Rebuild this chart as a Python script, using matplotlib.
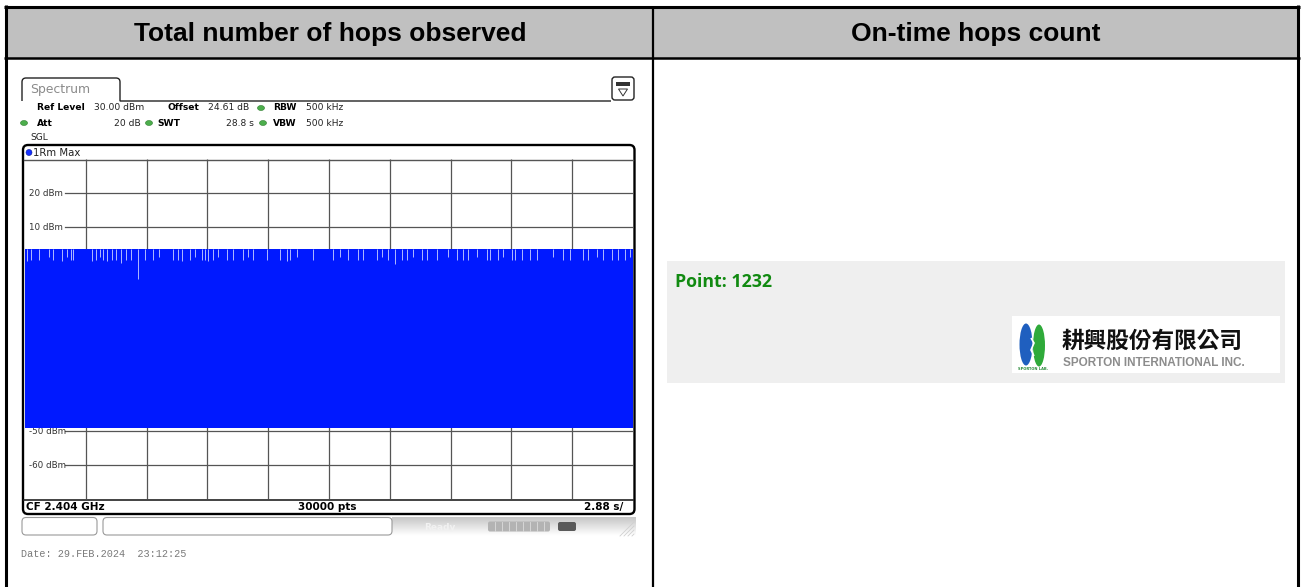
import numpy as np
import matplotlib
matplotlib.use("Agg")
import matplotlib.pyplot as plt
from matplotlib.patches import Rectangle, FancyBboxPatch, Ellipse, Polygon, PathPatch
from matplotlib.path import Path
import matplotlib.transforms as mtransforms

# --- values ---
headers = ["Total number of hops observed", "On-time hops count"]
ref_level = 30.0        # dBm, top grid line
level_span = 100.0      # dB over 10 divisions
sweep_time = 28.8       # s (2.88 s/div)
n_div = 10
level_grid = [20, 10, 0, -10, -20, -30, -40, -50, -60]
level_labels = ["20 dBm", "10 dBm", "0 dBm", "-10 dBm", "-20 dBm",
                "-30 dBm", "-40 dBm", "-50 dBm", "-60 dBm"]
trace_max = 3.4         # dBm, max-hold top of the hopping band
trace_min = -49.1       # dBm, bottom of the band
# dips in the max-hold trace (time in s, level in dBm)
notch_t = [0.09, 0.28, 0.66, 1.14, 1.33, 1.75, 1.99, 2.18, 2.27, 3.17, 3.36, 3.55,
           3.69, 3.88, 4.12, 4.31, 4.55, 4.78, 5.02, 5.35, 5.68, 6.06, 6.35, 7.01,
           7.25, 7.44, 7.82, 8.05, 8.38, 8.53, 8.67, 8.91, 9.14, 9.57, 9.85, 10.33,
           10.56, 10.80, 11.46, 12.08, 12.41, 12.55, 12.88, 13.64, 14.59, 14.92, 15.30, 15.77,
           16.01, 16.67, 16.91, 17.19, 17.53, 17.86, 18.09, 18.38, 18.81, 19.04, 19.52, 20.04,
           20.47, 20.75, 20.98, 21.41, 21.88, 22.03, 22.41, 22.64, 23.07, 23.21, 23.54, 23.92,
           24.25, 25.01, 25.49, 25.82, 26.43, 26.67, 27.09, 27.38, 27.81, 28.09, 28.42, 28.66]
notch_lvl = [0.0, 0.3, 0.3, 1.2, 0.3, 0.0, 1.2, 0.3, 0.3, 0.0, 0.3, 1.2,
             0.3, 0.0, 0.3, 0.3, -0.6, 0.3, 0.3, -5.2, 0.3, 0.3, 1.2, 0.3,
             0.3, 0.0, 0.3, 1.2, 0.3, 0.3, 0.0, 0.3, 1.2, 0.3, 0.3, 0.3,
             1.2, 0.3, 0.3, 0.3, 0.0, 0.3, 1.2, 0.3, 0.3, 1.2, 0.3, 0.3,
             0.3, 0.3, 1.2, 0.3, -1.0, 0.3, 0.3, 1.2, 0.3, 0.3, 0.3, 1.2,
             0.3, 0.3, 0.3, 1.2, 0.3, 0.3, 0.3, 1.2, 0.3, 0.3, 0.3, 0.3,
             0.3, 1.2, 0.3, 0.3, 0.3, 0.3, 1.2, 0.3, 0.3, 0.3, 0.3, 1.2]
point_count = 1232

W, H = 1301, 587
fig = plt.figure(figsize=(W / 100, H / 100), dpi=100)

# full-figure canvas in pixel units (y down)
bg = fig.add_axes([0, 0, 1, 1])
bg.set_xlim(0, W)
bg.set_ylim(H, 0)
bg.axis("off")

# --- table ---
bg.add_patch(Rectangle((5.5, 6.5), 1292.5, 51, fc="#c0c0c0", ec="none"))
for x0, x1, y0, y1, lw in [(4, 1300, 6.5, 6.5, 2.2), (4, 1300, 57.5, 57.5, 1.8),
                           (5.5, 5.5, 5, 600, 2.2), (1298, 1298, 5, 600, 2.2),
                           (653, 653, 6, 600, 1.6)]:
    bg.plot([x0, x1], [y0, y1], color="black", lw=lw, solid_capstyle="butt")
for cx, txt in zip([330, 976], headers):
    bg.text(cx, 40.5, txt, ha="center", va="baseline", fontsize=19,
            fontweight="bold", family="Liberation Sans", color="black")

# --- spectrum analyser screen: tab, setup lines ---
verts = [(22, 101), (22, 82), (22, 78), (26, 78), (116, 78), (120, 78),
         (120, 82), (120, 101), (611, 101)]
codes = [Path.MOVETO, Path.LINETO, Path.CURVE3, Path.CURVE3, Path.LINETO,
         Path.CURVE3, Path.CURVE3, Path.LINETO, Path.LINETO]
bg.add_patch(PathPatch(Path(verts, codes), fc="none", ec="#222222", lw=1.0))
bg.text(30, 89.5, "Spectrum", fontsize=8.9, color="#8a8a8a", va="center",
        family="DejaVu Sans")
# settings icon
bg.add_patch(FancyBboxPatch((612, 77), 22, 23, boxstyle="round,pad=0,rounding_size=3",
                            fc="white", ec="#222222", lw=1.0))
bg.add_patch(Rectangle((616, 82), 14, 4, fc="#333333", ec="none"))
bg.add_patch(Polygon([(618.5, 89), (627.5, 89), (623, 96)], closed=True,
                     fc="none", ec="#333333", lw=0.7))

small = dict(fontsize=6.6, family="DejaVu Sans", va="center", color="#222222")
bold = dict(small, fontweight="bold", color="black")
bg.text(37, 108, "Ref Level", **bold)
bg.text(94, 108, "30.00 dBm", **small)
bg.text(167, 108, "Offset", **bold)
bg.text(208, 108, "24.61 dB", **small)
bg.text(273, 108, "RBW", **bold)
bg.text(306, 108, "500 kHz", **small)
bg.text(37, 123, "Att", **bold)
bg.text(141, 123, "20 dB", ha="right", **small)
bg.text(157, 123, "SWT", **bold)
bg.text(254, 123, "28.8 s", ha="right", **small)
bg.text(273, 123, "VBW", **bold)
bg.text(306, 123, "500 kHz", **small)
bg.text(30, 137, "SGL", **small)
for gx, gy in [(261, 108), (24, 123), (149, 123), (263, 123)]:
    bg.add_patch(Ellipse((gx, gy), 7, 5, fc="#4cae4c", ec="#2e7d2e", lw=0.4))

# diagram frame
bg.add_patch(FancyBboxPatch((23, 145), 611.5, 369, boxstyle="round,pad=0,rounding_size=5",
                            fc="white", ec="black", lw=1.7, zorder=1))
bg.plot([24, 633], [159.5, 159.5], color="#555555", lw=1.0, zorder=2)
bg.plot([24, 633], [499.5, 499.5], color="#222222", lw=1.2, zorder=2)
bg.add_patch(Ellipse((29, 152.5), 6, 6, fc="#1530ff", ec="#0a1a99", lw=0.4, zorder=2))
bg.text(33, 152.5, "1Rm Max", zorder=2, **dict(small, fontsize=7.3))
foot = dict(fontsize=7.5, family="DejaVu Sans", fontweight="bold", va="center",
            color="black", zorder=2)
bg.text(26, 507, "CF 2.404 GHz", **foot)
bg.text(327, 507, "30000 pts", ha="center", **foot)
bg.text(623, 507, "2.88 s/", ha="right", **foot)

# status bar under the screen
grad = np.linspace(0.78, 1.0, 20).reshape(-1, 1)
bg.imshow(grad, cmap="gray", vmin=0, vmax=1, extent=(392, 636, 536, 517),
          aspect="auto", zorder=0)
for bx, bw in [(22, 75), (103, 289)]:
    bg.add_patch(FancyBboxPatch((bx, 517.5), bw, 17.5, boxstyle="round,pad=0,rounding_size=4",
                                fc="white", ec="#9a9a9a", lw=0.8))
bg.text(440, 527, "Ready", ha="center", va="center", fontsize=6.5, color="#f2f2f2",
        fontweight="bold", family="DejaVu Sans")
bg.add_patch(FancyBboxPatch((488, 521.5), 62, 10, boxstyle="round,pad=0,rounding_size=2",
                            fc="#b3b3b3", ec="none"))
for sx in range(495, 550, 7):
    bg.plot([sx, sx], [522, 531], color="#dcdcdc", lw=0.6)
bg.add_patch(FancyBboxPatch((558, 522), 18, 9, boxstyle="round,pad=0,rounding_size=2",
                            fc="#5a5a5a", ec="none"))
for k in range(4):
    bg.plot([620 + 4 * k, 634], [536, 522 + 4 * k], color="#d0d0d0", lw=0.6)
bg.text(21, 554, "Date: 29.FEB.2024  23:12:25", fontsize=7.3, family="Liberation Mono",
        color="#7a7a7a", va="center")

# --- spectrum trace axes (pixel x 25..633, y 159..499) ---
ax = fig.add_axes([25 / W, 1 - 499 / H, 608 / W, 340 / H])
ax.set_xlim(0, sweep_time)
ax.set_ylim(ref_level - level_span, ref_level)
ax.set_facecolor("none")
for s in ax.spines.values():
    s.set_visible(False)
ax.set_xticks([])
ax.set_yticks([])

grid_t = [sweep_time / n_div * i for i in range(1, n_div)]
ax.vlines(grid_t, ref_level - level_span, ref_level, colors="#555555", lw=0.9, zorder=1)
trans = mtransforms.blended_transform_factory(ax.transAxes, ax.transData)
for lvl, lab in zip(level_grid, level_labels):
    ax.plot([0.066, 1.0], [lvl, lvl], transform=trans, color="#555555", lw=0.9, zorder=1)
    ax.text(0.006, lvl, lab, transform=trans, fontsize=6.3, family="DejaVu Sans",
            color="#333333", va="center", ha="left", zorder=2)

ax.fill_between([0, sweep_time], trace_min, trace_max, color="#0019ff", lw=0, zorder=3)
ax.vlines(notch_t, notch_lvl, trace_max, colors="#ccd3ff", lw=0.6, zorder=4)

# --- right column: result panel ---
bg.add_patch(Rectangle((667, 261), 618, 122, fc="#efefef", ec="none"))
bg.text(675, 282, f"Point: {point_count}", fontsize=12.8, family="Open Sans",
        fontweight="bold", color="#118a11", va="center", ha="left")
bg.add_patch(Rectangle((1012, 316), 268, 57, fc="white", ec="none"))
bg.add_patch(Ellipse((1026, 344.5), 13, 42, fc="#1f5fbf", ec="none"))
bg.add_patch(Ellipse((1039, 345.5), 12, 42, fc="#2faa3a", ec="none"))
bg.add_patch(Polygon([(1031, 338), (1034, 343), (1031, 350), (1034, 356)], closed=False,
                     fc="none", ec="white", lw=1.2))
bg.text(1033, 369.5, "SPORTON LAB.", fontsize=2.6, color="#2a8a3a", ha="center",
        va="center", fontweight="bold", family="DejaVu Sans")
bg.text(1152, 341, "耕興股份有限公司", fontsize=16.3, family=["Noto Sans CJK TC", "DejaVu Sans"],
        fontweight="bold", color="#111111", ha="center", va="center")
bg.text(1154, 362.5, "SPORTON INTERNATIONAL INC.", fontsize=8.5, family="Liberation Sans",
        fontweight="bold", color="#8c8c8c", ha="center", va="center")

fig.savefig("out.png", dpi=100)
